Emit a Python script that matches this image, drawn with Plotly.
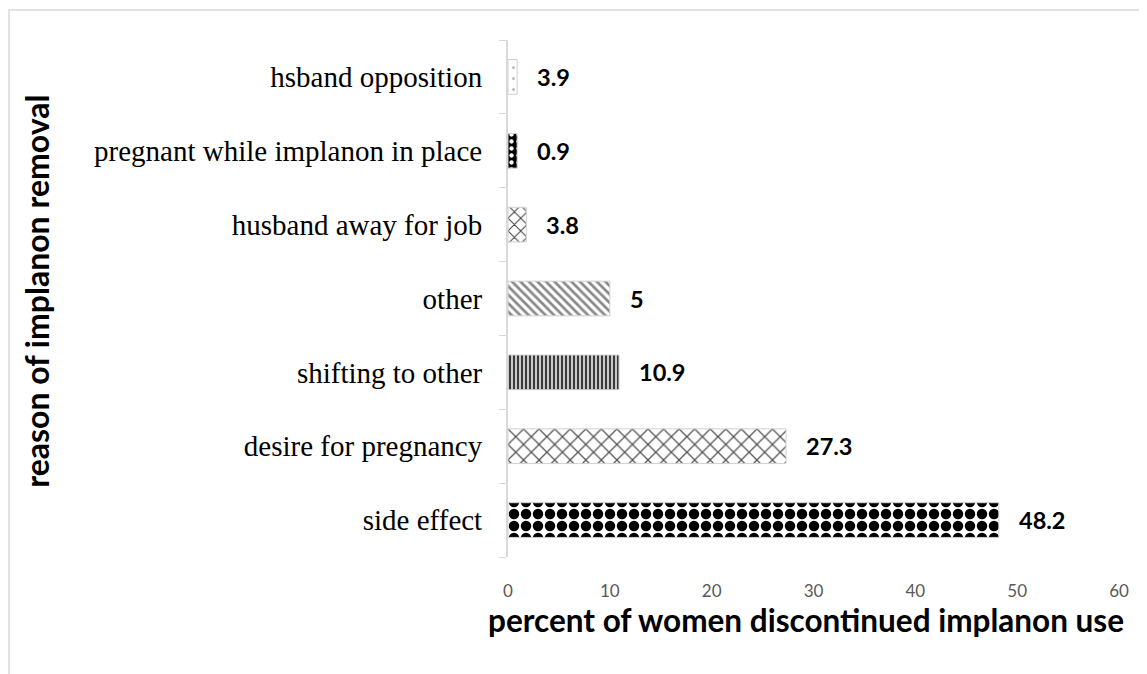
import plotly.graph_objects as go

categories = ["side effect", "desire for pregnancy", "shifting to other", "other",
              "husband away for job", "pregnant while implanon in place", "hsband opposition"]
bar_lengths = [48.2, 27.3, 10.9, 10.0, 1.8, 0.9, 0.9]
value_labels = ["48.2", "27.3", "10.9", "5", "3.8", "0.9", "3.9"]
x_ticks = [0, 10, 20, 30, 40, 50, 60]

patterns = [
    dict(shape=".", fgcolor="#000000", bgcolor="#ffffff", size=12, solidity=0.6, fgopacity=1),
    dict(shape="x", fgcolor="#555555", bgcolor="#ffffff", size=11, solidity=0.22, fgopacity=1),
    dict(shape="|", fgcolor="#3a3a3a", bgcolor="#c8c8c8", size=4, solidity=0.5, fgopacity=1),
    dict(shape="\\", fgcolor="#888888", bgcolor="#ffffff", size=6, solidity=0.45, fgopacity=1),
    dict(shape="x", fgcolor="#444444", bgcolor="#ffffff", size=9, solidity=0.22, fgopacity=1),
    dict(shape=".", fgcolor="#ffffff", bgcolor="#000000", size=7, solidity=0.3, fgopacity=1),
    dict(shape=".", fgcolor="#bbbbbb", bgcolor="#ffffff", size=11, solidity=0.06, fgopacity=1),
]

fig = go.Figure()
for cat, val, pat in zip(categories, bar_lengths, patterns):
    fig.add_trace(go.Bar(
        y=[cat], x=[val], orientation="h",
        marker=dict(color="#ffffff", pattern=pat, line=dict(width=1, color="#d0d0d0")),
        showlegend=False, hoverinfo="skip",
    ))

for cat, val, lab in zip(categories, bar_lengths, value_labels):
    fig.add_annotation(x=val, y=cat, text="<b>%s</b>" % lab, showarrow=False,
                       xanchor="left", xshift=18,
                       font=dict(family="Lato, Open Sans, sans-serif", size=23.5, color="#000000"))

fig.add_annotation(xref="paper", yref="paper", x=-0.772, y=0.5135,
                   text="<b>reason of implanon removal</b>", textangle=-90, showarrow=False,
                   xanchor="center", yanchor="middle",
                   font=dict(family="Lato, Open Sans, sans-serif", size=32, color="#000000"))

fig.add_annotation(xref="paper", yref="paper", x=0.4877, y=-0.1219,
                   text="<b>percent of women discontinued implanon use</b>", showarrow=False,
                   xanchor="center", yanchor="middle",
                   font=dict(family="Lato, Open Sans, sans-serif", size=31.5, color="#000000"))

fig.add_shape(type="rect", xref="paper", yref="paper",
              x0=-0.8167, x1=1.2, y0=-0.4, y1=1.058,
              line=dict(color="#d9d9d9", width=1.5), fillcolor="rgba(0,0,0,0)", layer="below")

fig.update_layout(
    width=1139, height=666,
    margin=dict(l=500, r=28, t=32, b=117),
    paper_bgcolor="#ffffff", plot_bgcolor="#ffffff",
    bargap=0.53, barmode="overlay",
    xaxis=dict(range=[0, 60], tickvals=x_ticks, showgrid=False, zeroline=False,
               showline=False, ticks="", ticklabelstandoff=22,
               tickfont=dict(family="Lato, Open Sans, sans-serif", size=17, color="#595959")),
    yaxis=dict(type="category", categoryorder="array", categoryarray=categories,
               showgrid=False, zeroline=False, showline=True, linecolor="#d9d9d9", linewidth=2,
               ticks="outside", tickson="boundaries", ticklen=7, tickcolor="#d9d9d9",
               ticklabelstandoff=18,
               tickfont=dict(family="Liberation Serif, Times New Roman, serif", size=29, color="#000000")),
)

fig.write_html("out.html")
